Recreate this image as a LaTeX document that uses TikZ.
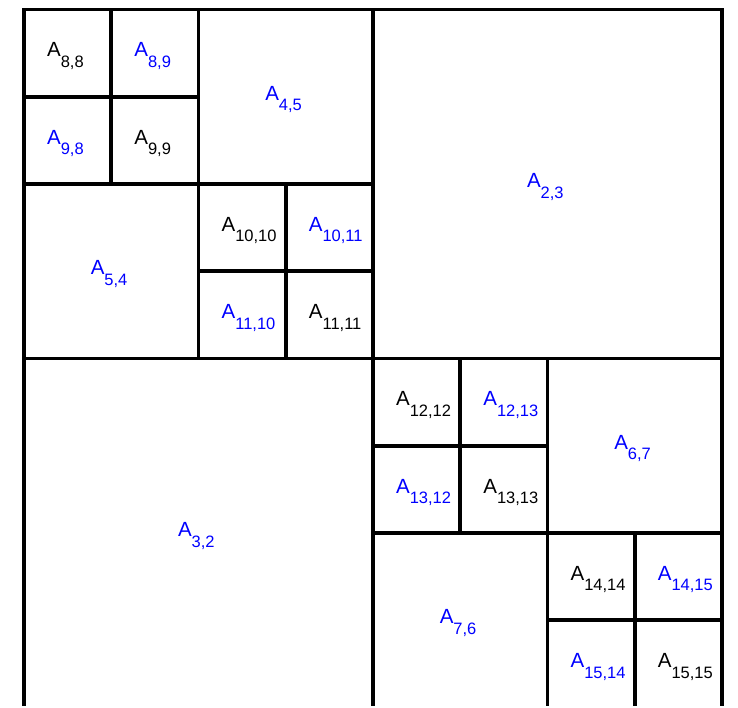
\documentclass[tikz,border=0pt]{standalone}
\usepackage{fontspec}
\setmainfont{Liberation Sans}
\definecolor{lblblue}{RGB}{0,0,255}
\newcommand\Asub[1]{\makebox[41pt][l]{\rule{0pt}{20pt}A\raisebox{-10.5pt}{\fontsize{16.5}{17}\selectfont #1}}}
\tikzset{
  x=1pt, y=1pt,
  blk/.style={draw=black, line width=3.6pt, inner sep=0pt, outer sep=0pt,
    anchor=north west, font=\fontsize{20.5}{22}\selectfont},
}
\newcommand\blockA[7]{%
  \node[blk, text=#6, minimum width={#4*87.25pt}, minimum height={#5*87.25pt}]
    (#1) at ({24+#2*87.25},{-9.5-#3*87.25}) {\Asub{#7}};}
\begin{document}
\begin{tikzpicture}
\useasboundingbox (0,0) rectangle (738,-707);
\clip (0,0) rectangle (738,-705.6);
% top-left quadrant
\blockA{a88}{0}{0}{1}{1}{black}{8,8}
\blockA{a89}{1}{0}{1}{1}{lblblue}{8,9}
\blockA{a98}{0}{1}{1}{1}{lblblue}{9,8}
\blockA{a99}{1}{1}{1}{1}{black}{9,9}
\blockA{a45}{2}{0}{2}{2}{lblblue}{4,5}
\blockA{a54}{0}{2}{2}{2}{lblblue}{5,4}
\blockA{a1010}{2}{2}{1}{1}{black}{10,10}
\blockA{a1011}{3}{2}{1}{1}{lblblue}{10,11}
\blockA{a1110}{2}{3}{1}{1}{lblblue}{11,10}
\blockA{a1111}{3}{3}{1}{1}{black}{11,11}
% off-diagonal large blocks
\blockA{a23}{4}{0}{4}{4}{lblblue}{2,3}
\blockA{a32}{0}{4}{4}{4}{lblblue}{3,2}
% bottom-right quadrant
\blockA{a1212}{4}{4}{1}{1}{black}{12,12}
\blockA{a1213}{5}{4}{1}{1}{lblblue}{12,13}
\blockA{a1312}{4}{5}{1}{1}{lblblue}{13,12}
\blockA{a1313}{5}{5}{1}{1}{black}{13,13}
\blockA{a67}{6}{4}{2}{2}{lblblue}{6,7}
\blockA{a76}{4}{6}{2}{2}{lblblue}{7,6}
\blockA{a1414}{6}{6}{1}{1}{black}{14,14}
\blockA{a1415}{7}{6}{1}{1}{lblblue}{14,15}
\blockA{a1514}{6}{7}{1}{1}{lblblue}{15,14}
\blockA{a1515}{7}{7}{1}{1}{black}{15,15}
\end{tikzpicture}
\end{document}
